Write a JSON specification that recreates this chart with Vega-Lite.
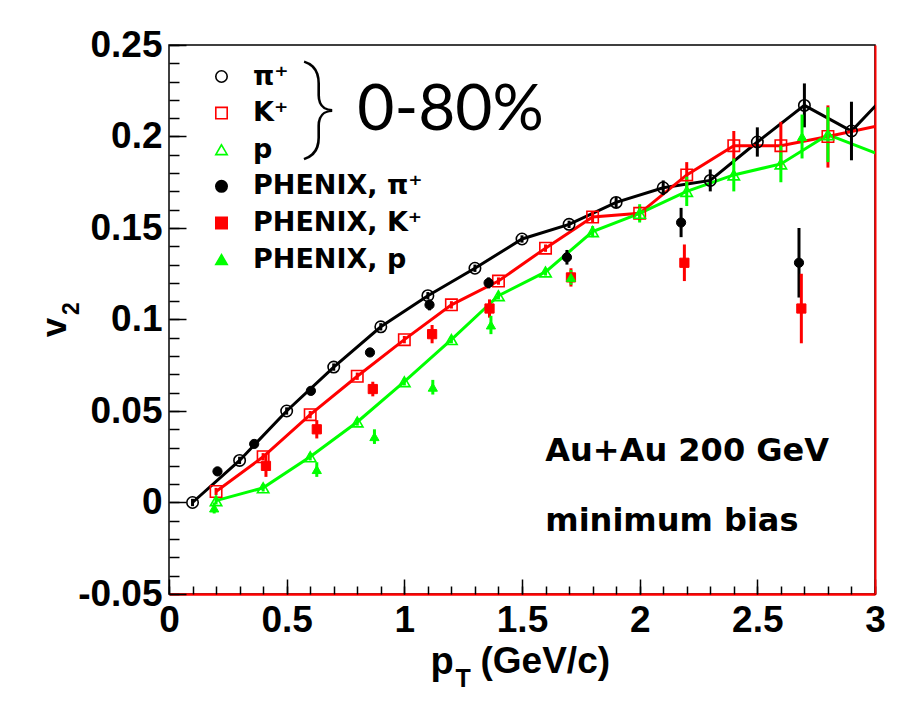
{
  "$schema": "https://vega.github.io/schema/vega-lite/v6.json",
  "width": 706,
  "height": 549,
  "autosize": {"type": "none"},
  "padding": {"left": 169, "top": 45, "right": 27, "bottom": 111},
  "background": "white",
  "view": {"stroke": "black", "strokeWidth": 1.5},
  "config": {
    "legend": {
      "orient": "none",
      "legendX": 39,
      "legendY": 18,
      "padding": 0,
      "labelFont": "DejaVu Sans",
      "labelFontWeight": "bold",
      "labelFontSize": 27,
      "labelColor": "black",
      "labelOffset": 18,
      "labelLimit": 500,
      "rowPadding": 8.6,
      "symbolSize": 130,
      "symbolStrokeWidth": 1.6,
      "symbolOpacity": 1
    }
  },
  "datasets": {
    "v2": [
      {"series": "π⁺", "pt": 0.1, "v2": 0.000, "err": 0.002},
      {"series": "π⁺", "pt": 0.3, "v2": 0.023, "err": 0.002},
      {"series": "π⁺", "pt": 0.5, "v2": 0.050, "err": 0.002},
      {"series": "π⁺", "pt": 0.7, "v2": 0.074, "err": 0.002},
      {"series": "π⁺", "pt": 0.9, "v2": 0.096, "err": 0.002},
      {"series": "π⁺", "pt": 1.1, "v2": 0.113, "err": 0.002},
      {"series": "π⁺", "pt": 1.3, "v2": 0.128, "err": 0.002},
      {"series": "π⁺", "pt": 1.5, "v2": 0.144, "err": 0.002},
      {"series": "π⁺", "pt": 1.7, "v2": 0.152, "err": 0.002},
      {"series": "π⁺", "pt": 1.9, "v2": 0.164, "err": 0.003},
      {"series": "π⁺", "pt": 2.1, "v2": 0.172, "err": 0.004},
      {"series": "π⁺", "pt": 2.3, "v2": 0.176, "err": 0.006},
      {"series": "π⁺", "pt": 2.5, "v2": 0.197, "err": 0.008},
      {"series": "π⁺", "pt": 2.7, "v2": 0.217, "err": 0.012},
      {"series": "π⁺", "pt": 2.9, "v2": 0.203, "err": 0.016},
      {"series": "π⁺", "pt": 3.1, "v2": 0.230, "err": 0.020},
      {"series": "K⁺", "pt": 0.2, "v2": 0.006, "err": 0.002},
      {"series": "K⁺", "pt": 0.4, "v2": 0.025, "err": 0.002},
      {"series": "K⁺", "pt": 0.6, "v2": 0.048, "err": 0.002},
      {"series": "K⁺", "pt": 0.8, "v2": 0.069, "err": 0.002},
      {"series": "K⁺", "pt": 1.0, "v2": 0.089, "err": 0.002},
      {"series": "K⁺", "pt": 1.2, "v2": 0.108, "err": 0.002},
      {"series": "K⁺", "pt": 1.4, "v2": 0.121, "err": 0.002},
      {"series": "K⁺", "pt": 1.6, "v2": 0.139, "err": 0.002},
      {"series": "K⁺", "pt": 1.8, "v2": 0.156, "err": 0.003},
      {"series": "K⁺", "pt": 2.0, "v2": 0.158, "err": 0.004},
      {"series": "K⁺", "pt": 2.2, "v2": 0.179, "err": 0.007},
      {"series": "K⁺", "pt": 2.4, "v2": 0.195, "err": 0.008},
      {"series": "K⁺", "pt": 2.6, "v2": 0.195, "err": 0.013},
      {"series": "K⁺", "pt": 2.8, "v2": 0.200, "err": 0.017},
      {"series": "K⁺", "pt": 3.0, "v2": 0.2055, "err": 0.020},
      {"series": "p", "pt": 0.2, "v2": 0.001, "err": 0.002},
      {"series": "p", "pt": 0.4, "v2": 0.008, "err": 0.002},
      {"series": "p", "pt": 0.6, "v2": 0.025, "err": 0.002},
      {"series": "p", "pt": 0.8, "v2": 0.044, "err": 0.002},
      {"series": "p", "pt": 1.0, "v2": 0.066, "err": 0.002},
      {"series": "p", "pt": 1.2, "v2": 0.089, "err": 0.002},
      {"series": "p", "pt": 1.4, "v2": 0.113, "err": 0.002},
      {"series": "p", "pt": 1.6, "v2": 0.126, "err": 0.002},
      {"series": "p", "pt": 1.8, "v2": 0.148, "err": 0.003},
      {"series": "p", "pt": 2.0, "v2": 0.158, "err": 0.005},
      {"series": "p", "pt": 2.2, "v2": 0.170, "err": 0.008},
      {"series": "p", "pt": 2.4, "v2": 0.179, "err": 0.009},
      {"series": "p", "pt": 2.6, "v2": 0.185, "err": 0.010},
      {"series": "p", "pt": 2.8, "v2": 0.201, "err": 0.015},
      {"series": "p", "pt": 3.0, "v2": 0.191, "err": 0.020},
      {"series": "PHENIX, π⁺", "pt": 0.206, "v2": 0.017, "err": 0.002},
      {"series": "PHENIX, π⁺", "pt": 0.362, "v2": 0.032, "err": 0.002},
      {"series": "PHENIX, π⁺", "pt": 0.603, "v2": 0.061, "err": 0.002},
      {"series": "PHENIX, π⁺", "pt": 0.854, "v2": 0.082, "err": 0.002},
      {"series": "PHENIX, π⁺", "pt": 1.107, "v2": 0.108, "err": 0.003},
      {"series": "PHENIX, π⁺", "pt": 1.358, "v2": 0.120, "err": 0.003},
      {"series": "PHENIX, π⁺", "pt": 1.691, "v2": 0.134, "err": 0.004},
      {"series": "PHENIX, π⁺", "pt": 2.176, "v2": 0.153, "err": 0.008},
      {"series": "PHENIX, π⁺", "pt": 2.677, "v2": 0.131, "err": 0.019},
      {"series": "PHENIX, K⁺", "pt": 0.412, "v2": 0.020, "err": 0.006},
      {"series": "PHENIX, K⁺", "pt": 0.628, "v2": 0.040, "err": 0.005},
      {"series": "PHENIX, K⁺", "pt": 0.866, "v2": 0.062, "err": 0.004},
      {"series": "PHENIX, K⁺", "pt": 1.118, "v2": 0.092, "err": 0.005},
      {"series": "PHENIX, K⁺", "pt": 1.362, "v2": 0.106, "err": 0.005},
      {"series": "PHENIX, K⁺", "pt": 1.708, "v2": 0.123, "err": 0.005},
      {"series": "PHENIX, K⁺", "pt": 2.19, "v2": 0.131, "err": 0.010},
      {"series": "PHENIX, K⁺", "pt": 2.687, "v2": 0.106, "err": 0.019},
      {"series": "PHENIX, p", "pt": 0.192, "v2": -0.003, "err": 0.003},
      {"series": "PHENIX, p", "pt": 0.628, "v2": 0.018, "err": 0.004},
      {"series": "PHENIX, p", "pt": 0.873, "v2": 0.036, "err": 0.004},
      {"series": "PHENIX, p", "pt": 1.121, "v2": 0.063, "err": 0.004},
      {"series": "PHENIX, p", "pt": 1.368, "v2": 0.097, "err": 0.005},
      {"series": "PHENIX, p", "pt": 1.708, "v2": 0.123, "err": 0.004},
      {"series": "PHENIX, p", "pt": 2.69, "v2": 0.200, "err": 0.012}
    ]
  },
  "resolve": {"axis": {"x": "independent", "y": "independent"}},
  "layer": [
    {
      "data": {"name": "v2"},
      "transform": [{"filter": "datum.series == 'π⁺'"}],
      "mark": {"type": "line", "color": "black", "strokeWidth": 3, "clip": true},
      "encoding": {
        "x": {"field": "pt", "type": "quantitative", "scale": {"domain": [0, 3], "nice": false, "zero": false},
          "axis": {"orient": "bottom", "values": [0, 0.5, 1, 1.5, 2, 2.5, 3], "ticks": false, "grid": false,
            "domain": true, "domainColor": "#ff0000", "domainWidth": 2.5,
            "labelFont": "Liberation Sans", "labelFontWeight": "bold", "labelFontSize": 37, "labelColor": "black",
            "labelPadding": 8, "labelFlush": false, "labelOverlap": false, "labelExpr": "'' + datum.value",
            "title": "p", "titleFont": "Liberation Sans", "titleFontWeight": "bold", "titleFontSize": 38, "titleColor": "black",
            "titleX": 261, "titleY": 79, "titleAlign": "left", "titleBaseline": "alphabetic"}},
        "y": {"field": "v2", "type": "quantitative", "scale": {"domain": [-0.05, 0.25], "nice": false, "zero": false},
          "axis": {"orient": "left", "values": [-0.05, 0, 0.05, 0.1, 0.15, 0.2, 0.25], "ticks": false, "grid": false, "domain": false,
            "labelFont": "Liberation Sans", "labelFontWeight": "bold", "labelFontSize": 37, "labelColor": "black",
            "labelPadding": 7, "labelOverlap": false, "labelExpr": "'' + datum.value",
            "title": "v", "titleFont": "Liberation Sans", "titleFontWeight": "bold", "titleFontSize": 35, "titleColor": "black",
            "titleAngle": 270, "titleX": -104, "titleY": 282, "titleAlign": "center", "titleBaseline": "alphabetic"}}
      }
    },
    {
      "data": {"name": "v2"},
      "transform": [{"filter": "datum.series == 'K⁺'"}],
      "mark": {"type": "line", "color": "#ff0000", "strokeWidth": 3, "clip": true},
      "encoding": {
        "x": {"field": "pt", "type": "quantitative", "scale": {"domain": [0, 3], "nice": false, "zero": false},
          "axis": {"orient": "bottom", "values": [0, 0.5, 1, 1.5, 2, 2.5, 3], "labels": false, "domain": false, "grid": false,
            "ticks": true, "tickSize": -15, "tickColor": "black", "tickWidth": 1.5,
            "title": "T", "titleFont": "Liberation Sans", "titleFontWeight": "bold", "titleFontSize": 25, "titleColor": "black",
            "titleX": 286, "titleY": 92, "titleAlign": "left", "titleBaseline": "alphabetic"}},
        "y": {"field": "v2", "type": "quantitative", "scale": {"domain": [-0.05, 0.25], "nice": false, "zero": false},
          "axis": {"orient": "left", "values": [-0.05, 0, 0.05, 0.1, 0.15, 0.2, 0.25], "labels": false, "domain": false, "grid": false,
            "ticks": true, "tickSize": -17, "tickColor": "black", "tickWidth": 1.5,
            "title": "2", "titleFont": "Liberation Sans", "titleFontWeight": "bold", "titleFontSize": 23, "titleColor": "black",
            "titleAngle": 270, "titleX": -91, "titleY": 263, "titleAlign": "center", "titleBaseline": "alphabetic"}}
      }
    },
    {
      "data": {"name": "v2"},
      "transform": [{"filter": "datum.series == 'p'"}],
      "mark": {"type": "line", "color": "#00ff00", "strokeWidth": 3, "clip": true},
      "encoding": {
        "x": {"field": "pt", "type": "quantitative", "scale": {"domain": [0, 3], "nice": false, "zero": false},
          "axis": {"orient": "bottom", "values": [0, 0.1, 0.2, 0.3, 0.4, 0.5, 0.6, 0.7, 0.8, 0.9, 1, 1.1, 1.2, 1.3, 1.4, 1.5, 1.6, 1.7, 1.8, 1.9, 2, 2.1, 2.2, 2.3, 2.4, 2.5, 2.6, 2.7, 2.8, 2.9, 3],
            "labels": false, "domain": false, "grid": false, "ticks": true, "tickSize": -8, "tickColor": "black", "tickWidth": 1.5,
            "title": "(GeV/c)", "titleFont": "Liberation Sans", "titleFontWeight": "bold", "titleFontSize": 37, "titleColor": "black",
            "titleX": 311, "titleY": 78.5, "titleAlign": "left", "titleBaseline": "alphabetic"}},
        "y": {"field": "v2", "type": "quantitative", "scale": {"domain": [-0.05, 0.25], "nice": false, "zero": false},
          "axis": {"orient": "left", "values": [-0.05, -0.04, -0.03, -0.02, -0.01, 0, 0.01, 0.02, 0.03, 0.04, 0.05, 0.06, 0.07, 0.08, 0.09, 0.1, 0.11, 0.12, 0.13, 0.14, 0.15, 0.16, 0.17, 0.18, 0.19, 0.2, 0.21, 0.22, 0.23, 0.24, 0.25],
            "labels": false, "domain": false, "grid": false, "ticks": true, "tickSize": -10, "tickColor": "black", "tickWidth": 1.5, "title": null}}
      }
    },
    {
      "data": {"name": "v2"},
      "transform": [{"filter": "indexof(datum.series, 'π') >= 0 && datum.pt < 2.95"}],
      "mark": {"type": "errorbar", "color": "black", "thickness": 3},
      "encoding": {
        "x": {"field": "pt", "type": "quantitative", "axis": null},
        "y": {"field": "v2", "type": "quantitative", "axis": null},
        "yError": {"field": "err"}
      }
    },
    {
      "data": {"name": "v2"},
      "transform": [{"filter": "indexof(datum.series, 'K') >= 0 && datum.pt < 2.95"}],
      "mark": {"type": "errorbar", "color": "#ff0000", "thickness": 3},
      "encoding": {
        "x": {"field": "pt", "type": "quantitative", "axis": null},
        "y": {"field": "v2", "type": "quantitative", "axis": null},
        "yError": {"field": "err"}
      }
    },
    {
      "data": {"name": "v2"},
      "transform": [{"filter": "(datum.series == 'p' || datum.series == 'PHENIX, p') && datum.pt < 2.95"}],
      "mark": {"type": "errorbar", "color": "#00ff00", "thickness": 3},
      "encoding": {
        "x": {"field": "pt", "type": "quantitative", "axis": null},
        "y": {"field": "v2", "type": "quantitative", "axis": null},
        "yError": {"field": "err"}
      }
    },
    {
      "data": {"name": "v2"},
      "transform": [{"filter": "indexof(datum.series, 'PHENIX') < 0 && datum.pt < 2.95"}],
      "mark": {"type": "point", "size": 130, "strokeWidth": 1.6, "opacity": 1},
      "encoding": {
        "x": {"field": "pt", "type": "quantitative", "axis": null},
        "y": {"field": "v2", "type": "quantitative",
          "axis": {"orient": "right", "domain": true, "domainColor": "#ff0000", "domainWidth": 2, "ticks": false, "labels": false, "grid": false, "title": null}},
        "shape": {"field": "series", "type": "nominal", "legend": {"title": null},
          "scale": {"domain": ["π⁺", "K⁺", "p", "PHENIX, π⁺", "PHENIX, K⁺", "PHENIX, p"], "range": ["circle", "square", "triangle-up", "circle", "square", "triangle-up"]}},
        "fill": {"field": "series", "type": "nominal", "legend": {"title": null},
          "scale": {"domain": ["π⁺", "K⁺", "p", "PHENIX, π⁺", "PHENIX, K⁺", "PHENIX, p"], "range": ["transparent", "transparent", "transparent", "black", "#ff0000", "#00ff00"]}},
        "stroke": {"field": "series", "type": "nominal", "legend": {"title": null},
          "scale": {"domain": ["π⁺", "K⁺", "p", "PHENIX, π⁺", "PHENIX, K⁺", "PHENIX, p"], "range": ["black", "#ff0000", "#00ff00", "black", "#ff0000", "#00ff00"]}}
      }
    },
    {
      "data": {"name": "v2"},
      "transform": [{"filter": "indexof(datum.series, 'PHENIX') >= 0"}],
      "mark": {"type": "point", "size": 85, "strokeWidth": 1, "opacity": 1},
      "encoding": {
        "x": {"field": "pt", "type": "quantitative", "axis": null},
        "y": {"field": "v2", "type": "quantitative", "axis": null},
        "shape": {"field": "series", "type": "nominal", "legend": {"title": null},
          "scale": {"domain": ["π⁺", "K⁺", "p", "PHENIX, π⁺", "PHENIX, K⁺", "PHENIX, p"], "range": ["circle", "square", "triangle-up", "circle", "square", "triangle-up"]}},
        "fill": {"field": "series", "type": "nominal", "legend": {"title": null},
          "scale": {"domain": ["π⁺", "K⁺", "p", "PHENIX, π⁺", "PHENIX, K⁺", "PHENIX, p"], "range": ["transparent", "transparent", "transparent", "black", "#ff0000", "#00ff00"]}},
        "stroke": {"field": "series", "type": "nominal", "legend": {"title": null},
          "scale": {"domain": ["π⁺", "K⁺", "p", "PHENIX, π⁺", "PHENIX, K⁺", "PHENIX, p"], "range": ["black", "#ff0000", "#00ff00", "black", "#ff0000", "#00ff00"]}}
      }
    },
    {
      "data": {"values": [{"label": "}"}]},
      "mark": {"type": "text", "font": "Roboto", "fontWeight": 100, "fontSize": 100, "align": "center", "baseline": "middle", "color": "black"},
      "encoding": {
        "x": {"datum": 0.64, "type": "quantitative", "axis": null},
        "y": {"datum": 0.2148, "type": "quantitative", "axis": null},
        "text": {"field": "label"}
      }
    },
    {
      "data": {"values": [{"label": "0-80%"}]},
      "mark": {"type": "text", "font": "Lato", "fontSize": 64, "align": "left", "baseline": "alphabetic", "color": "black"},
      "encoding": {
        "x": {"datum": 0.8, "type": "quantitative", "axis": null},
        "y": {"datum": 0.2038, "type": "quantitative", "axis": null},
        "text": {"field": "label"}
      }
    },
    {
      "data": {"values": [{"label": "Au+Au 200 GeV"}]},
      "mark": {"type": "text", "font": "DejaVu Sans", "fontWeight": "bold", "fontSize": 32, "align": "left", "baseline": "alphabetic", "color": "black"},
      "encoding": {
        "x": {"datum": 1.599, "type": "quantitative", "axis": null},
        "y": {"datum": 0.0226, "type": "quantitative", "axis": null},
        "text": {"field": "label"}
      }
    },
    {
      "data": {"values": [{"label": "minimum bias"}]},
      "mark": {"type": "text", "font": "DejaVu Sans", "fontWeight": "bold", "fontSize": 32, "align": "left", "baseline": "alphabetic", "color": "black"},
      "encoding": {
        "x": {"datum": 1.599, "type": "quantitative", "axis": null},
        "y": {"datum": -0.0157, "type": "quantitative", "axis": null},
        "text": {"field": "label"}
      }
    }
  ]
}
